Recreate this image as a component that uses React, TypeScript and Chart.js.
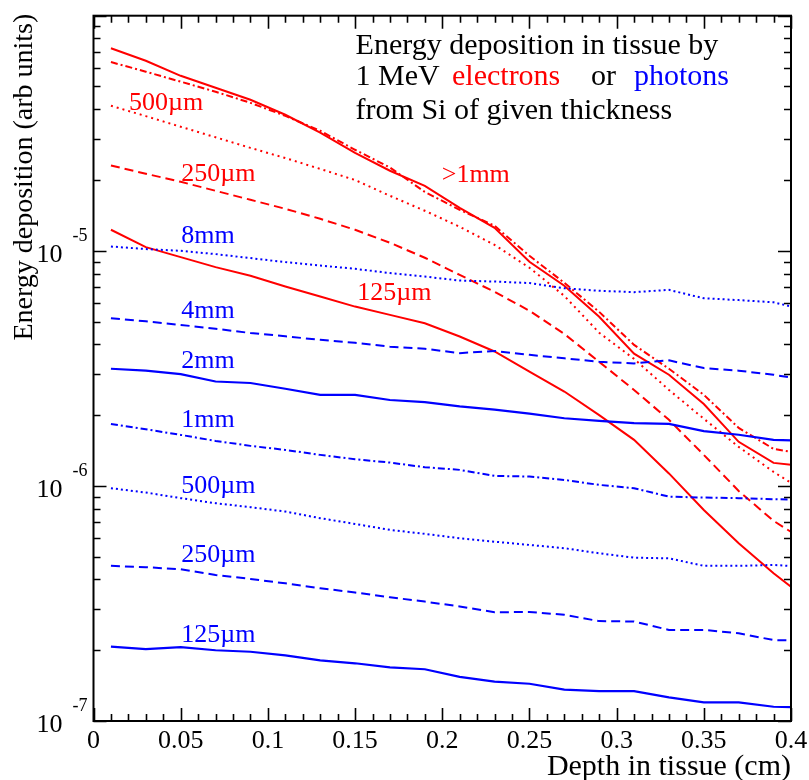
import React, { useEffect, useRef } from 'react';
import { Chart, registerables } from 'chart.js';

Chart.register(...registerables);

// ---------- data ----------
const DEPTH = [0.01, 0.03, 0.05, 0.07, 0.09, 0.11, 0.13, 0.15, 0.17, 0.19, 0.21, 0.23, 0.25, 0.27, 0.29, 0.31, 0.33, 0.35, 0.37, 0.39, 0.41];

// electrons (red)
const E_THICK_SOLID = [7.27e-5, 6.43e-5, 5.55e-5, 4.94e-5, 4.39e-5, 3.79e-5, 3.18e-5, 2.61e-5, 2.19e-5, 1.89e-5, 1.524e-5, 1.253e-5, 8.98e-6, 7.1e-6, 5.24e-6, 3.65e-6, 2.97e-6, 2.23e-6, 1.54e-6, 1.253e-6, 1.205e-6];
const E_THICK_DASHDOT = [6.35e-5, 5.78e-5, 5.24e-5, 4.75e-5, 4.26e-5, 3.75e-5, 3.24e-5, 2.69e-5, 2.26e-5, 1.78e-5, 1.494e-5, 1.278e-5, 9.52e-6, 7.31e-6, 5.5e-6, 3.98e-6, 3.15e-6, 2.44e-6, 1.765e-6, 1.437e-6, 1.355e-6];
const E_500UM = [4.14e-5, 3.74e-5, 3.37e-5, 3.04e-5, 2.74e-5, 2.48e-5, 2.23e-5, 2.0e-5, 1.714e-5, 1.48e-5, 1.265e-5, 1.06e-5, 8.47e-6, 6.43e-6, 4.48e-6, 3.47e-6, 2.56e-6, 1.93e-6, 1.466e-6, 1.147e-6, 9.25e-7];
const E_250UM = [2.307e-5, 2.127e-5, 1.966e-5, 1.8e-5, 1.648e-5, 1.509e-5, 1.368e-5, 1.229e-5, 1.082e-5, 9.34e-6, 7.9e-6, 6.69e-6, 5.56e-6, 4.43e-6, 3.37e-6, 2.56e-6, 1.91e-6, 1.355e-6, 9.52e-7, 7.1e-7, 5.72e-7];
const E_125UM = [1.229e-5, 1.037e-5, 9.4e-6, 8.52e-6, 7.83e-6, 7.05e-6, 6.39e-6, 5.79e-6, 5.34e-6, 4.92e-6, 4.32e-6, 3.73e-6, 3.06e-6, 2.52e-6, 2.0e-6, 1.57e-6, 1.13e-6, 7.9e-7, 5.7e-7, 4.25e-7, 3.27e-7];

// photons (blue)
const P_8MM = [1.043e-5, 1.017e-5, 1.0e-5, 9.68e-6, 9.31e-6, 8.95e-6, 8.66e-6, 8.38e-6, 8.04e-6, 7.77e-6, 7.47e-6, 7.4e-6, 7.29e-6, 6.93e-6, 6.76e-6, 6.67e-6, 6.82e-6, 6.28e-6, 6.17e-6, 6.04e-6, 5.56e-6];
const P_4MM = [5.17e-6, 5.01e-6, 4.84e-6, 4.66e-6, 4.47e-6, 4.33e-6, 4.18e-6, 4.06e-6, 3.91e-6, 3.83e-6, 3.67e-6, 3.75e-6, 3.61e-6, 3.49e-6, 3.37e-6, 3.32e-6, 3.42e-6, 3.17e-6, 3.09e-6, 2.97e-6, 2.81e-6];
const P_2MM = [3.15e-6, 3.09e-6, 2.99e-6, 2.78e-6, 2.74e-6, 2.59e-6, 2.44e-6, 2.44e-6, 2.32e-6, 2.27e-6, 2.18e-6, 2.11e-6, 2.03e-6, 1.94e-6, 1.89e-6, 1.85e-6, 1.835e-6, 1.71e-6, 1.65e-6, 1.57e-6, 1.555e-6];
const P_1MM = [1.835e-6, 1.742e-6, 1.648e-6, 1.554e-6, 1.48e-6, 1.423e-6, 1.355e-6, 1.299e-6, 1.257e-6, 1.201e-6, 1.17e-6, 1.103e-6, 1.096e-6, 1.06e-6, 1.01e-6, 9.78e-7, 9.0e-7, 8.92e-7, 8.87e-7, 8.78e-7, 8.7e-7];
const P_500UM = [9.78e-7, 9.37e-7, 8.87e-7, 8.44e-7, 8.12e-7, 7.78e-7, 7.29e-7, 6.89e-7, 6.5e-7, 6.25e-7, 5.99e-7, 5.79e-7, 5.61e-7, 5.43e-7, 5.17e-7, 4.95e-7, 4.92e-7, 4.57e-7, 4.57e-7, 4.61e-7, 4.52e-7];
const P_250UM = [4.57e-7, 4.51e-7, 4.42e-7, 4.18e-7, 4.02e-7, 3.85e-7, 3.67e-7, 3.52e-7, 3.36e-7, 3.22e-7, 3.07e-7, 2.9e-7, 2.91e-7, 2.83e-7, 2.66e-7, 2.65e-7, 2.44e-7, 2.44e-7, 2.36e-7, 2.21e-7, 2.19e-7];
const P_125UM = [2.07e-7, 2.02e-7, 2.06e-7, 2.0e-7, 1.97e-7, 1.9e-7, 1.81e-7, 1.76e-7, 1.69e-7, 1.66e-7, 1.54e-7, 1.47e-7, 1.44e-7, 1.36e-7, 1.34e-7, 1.34e-7, 1.26e-7, 1.2e-7, 1.2e-7, 1.15e-7, 1.14e-7];

// axes
const X_MIN = 0;
const X_MAX = 0.4;
const Y_MIN = 1e-7;
const Y_MAX = 1e-4;
const X_TICK_VALUES = [0, 0.05, 0.1, 0.15, 0.2, 0.25, 0.3, 0.35, 0.4];
const X_TICK_LABELS = ['0', '0.05', '0.1', '0.15', '0.2', '0.25', '0.3', '0.35', '0.4'];
const Y_DECADES = [-7, -6, -5];
const X_TITLE = 'Depth in tissue (cm)';
const Y_TITLE = 'Energy deposition (arb units)';

// curve labels: text, colour, depth (left edge), value (baseline)
const LABEL_TEXT = ['500µm', '250µm', '>1mm', '125µm', '8mm', '4mm', '2mm', '1mm', '500µm', '250µm', '125µm'];
const LABEL_COLOR = ['red', 'red', 'red', 'red', 'blue', 'blue', 'blue', 'blue', 'blue', 'blue', 'blue'];
const LABEL_X = [0.0204, 0.0503, 0.1997, 0.1513, 0.0503, 0.0503, 0.0503, 0.0503, 0.0503, 0.0503, 0.0503];
const LABEL_Y = [3.98e-5, 1.986e-5, 1.97e-5, 6.19e-6, 1.079e-5, 5.19e-6, 3.18e-6, 1.788e-6, 9.34e-7, 4.75e-7, 2.17e-7];

// header text (data coordinates: left depth, baseline value)
const HEAD_LINE1 = 'Energy deposition in tissue by';
const HEAD_LINE2_PARTS = ['1 MeV', 'electrons', 'or', 'photons'];
const HEAD_LINE2_COLORS = ['black', 'red', 'black', 'blue'];
const HEAD_LINE2_X = [0.1503, 0.2056, 0.2853, 0.3099];
const HEAD_LINE3 = 'from Si of given thickness';
const HEAD_X = 0.1503;
const HEAD_Y = [6.9e-5, 5.05e-5, 3.65e-5];

const RED = '#ff0000';
const BLUE = '#0000ff';
const SERIF = '"Liberation Serif", "Times New Roman", "DejaVu Serif", serif';

function pts(vals: number[]) {
  return vals.map((v, i) => ({ x: DEPTH[i], y: v }));
}
function colorOf(name: string) {
  return name === 'red' ? RED : name === 'blue' ? BLUE : '#000';
}

const SOLID: number[] = [];
const DASHED = [9, 5];
const DOTTED = [2, 3];
const DASHDOT = [7, 3, 2, 3];

const framePlugin = {
  id: 'rootFrame',
  afterDatasetsDraw(chart: any) {
    const { ctx, chartArea: ca, scales } = chart;
    const xs = scales.x;
    const ys = scales.y;
    ctx.save();
    ctx.strokeStyle = '#000';
    ctx.fillStyle = '#000';
    ctx.lineWidth = 2;
    ctx.setLineDash([]);
    ctx.strokeRect(ca.left, ca.top, ca.right - ca.left, ca.bottom - ca.top);

    // x ticks
    ctx.lineWidth = 1.6;
    for (let k = 0; k <= 40; k++) {
      const v = X_MIN + (k * (X_MAX - X_MIN)) / 40;
      const px = Math.round(xs.getPixelForValue(v)) + 0.5;
      const len = k % 5 === 0 ? 13 : 7;
      ctx.beginPath();
      ctx.moveTo(px, ca.bottom);
      ctx.lineTo(px, ca.bottom - len);
      ctx.moveTo(px, ca.top);
      ctx.lineTo(px, ca.top + len);
      ctx.stroke();
    }
    // y ticks (log)
    for (let d = -7; d <= -4; d++) {
      for (let m = 1; m <= 9; m++) {
        const v = m * Math.pow(10, d);
        if (v > Y_MAX * 1.0001) break;
        const py = Math.round(ys.getPixelForValue(v)) + 0.5;
        const len = m === 1 ? 13 : 7;
        ctx.beginPath();
        ctx.moveTo(ca.left, py);
        ctx.lineTo(ca.left + len, py);
        ctx.moveTo(ca.right, py);
        ctx.lineTo(ca.right - len, py);
        ctx.stroke();
      }
    }

    // x tick labels
    ctx.font = `26px ${SERIF}`;
    ctx.textAlign = 'center';
    ctx.textBaseline = 'alphabetic';
    X_TICK_VALUES.forEach((v, i) => {
      ctx.fillText(X_TICK_LABELS[i], xs.getPixelForValue(v), ca.bottom + 27);
    });
    // y tick labels: 10^d
    Y_DECADES.forEach((d) => {
      const py = ys.getPixelForValue(Math.pow(10, d));
      ctx.font = `26px ${SERIF}`;
      ctx.textAlign = 'right';
      ctx.fillText('10', ca.left - 31, py + 11);
      ctx.font = `18px ${SERIF}`;
      ctx.textAlign = 'left';
      ctx.fillText(String(d), ca.left - 21, py - 10);
    });

    // axis titles
    ctx.font = `30px ${SERIF}`;
    ctx.textAlign = 'right';
    ctx.fillText(X_TITLE, ca.right, ca.bottom + 54);
    ctx.save();
    ctx.translate(32, ca.top - 2);
    ctx.rotate(-Math.PI / 2);
    ctx.font = `28px ${SERIF}`;
    ctx.textAlign = 'right';
    ctx.fillText(Y_TITLE, 0, 0);
    ctx.restore();

    // curve labels
    ctx.font = `26px ${SERIF}`;
    ctx.textAlign = 'left';
    LABEL_TEXT.forEach((t, i) => {
      ctx.fillStyle = colorOf(LABEL_COLOR[i]);
      ctx.fillText(t, xs.getPixelForValue(LABEL_X[i]), ys.getPixelForValue(LABEL_Y[i]));
    });

    // header
    ctx.font = `30px ${SERIF}`;
    const hx = xs.getPixelForValue(HEAD_X);
    ctx.fillStyle = '#000';
    ctx.fillText(HEAD_LINE1, hx, ys.getPixelForValue(HEAD_Y[0]));
    const y2 = ys.getPixelForValue(HEAD_Y[1]);
    HEAD_LINE2_PARTS.forEach((t, i) => {
      ctx.fillStyle = colorOf(HEAD_LINE2_COLORS[i]);
      ctx.fillText(t, xs.getPixelForValue(HEAD_LINE2_X[i]), y2);
    });
    ctx.fillStyle = '#000';
    ctx.fillText(HEAD_LINE3, hx, ys.getPixelForValue(HEAD_Y[2]));
    ctx.restore();
  },
};

export default function App() {
  const ref = useRef<HTMLCanvasElement>(null);
  useEffect(() => {
    if (!ref.current) return;
    const mk = (label: string, data: number[], color: string, dash: number[], width = 2) => ({
      label,
      data: pts(data),
      borderColor: color,
      backgroundColor: color,
      borderWidth: width,
      borderDash: dash,
      pointRadius: 0,
      tension: 0,
      fill: false,
    });
    const chart = new Chart(ref.current, {
      type: 'line',
      data: {
        datasets: [
          mk('photons 8mm', P_8MM, BLUE, DOTTED),
          mk('photons 4mm', P_4MM, BLUE, DASHED),
          mk('photons 2mm', P_2MM, BLUE, SOLID, 2.2),
          mk('photons 1mm', P_1MM, BLUE, DASHDOT),
          mk('photons 500um', P_500UM, BLUE, DOTTED),
          mk('photons 250um', P_250UM, BLUE, DASHED),
          mk('photons 125um', P_125UM, BLUE, SOLID, 2.2),
          mk('electrons >1mm', E_THICK_SOLID, RED, SOLID),
          mk('electrons 1mm', E_THICK_DASHDOT, RED, DASHDOT),
          mk('electrons 500um', E_500UM, RED, [2, 4]),
          mk('electrons 250um', E_250UM, RED, DASHED),
          mk('electrons 125um', E_125UM, RED, SOLID),
        ] as any,
      },
      options: {
        animation: false,
        responsive: false,
        devicePixelRatio: 1,
        layout: { padding: { left: 93.5, right: 18, top: 15.7, bottom: 59 } },
        plugins: { legend: { display: false }, tooltip: { enabled: false } },
        scales: {
          x: { type: 'linear', min: X_MIN, max: X_MAX, display: false },
          y: { type: 'logarithmic', min: Y_MIN, max: Y_MAX, display: false },
        },
      } as any,
      plugins: [framePlugin],
    });
    return () => chart.destroy();
  }, []);
  return (
    <div style={{ position: 'absolute', left: 0, top: 0, width: 809, height: 780, background: '#fff' }}>
      <canvas ref={ref} width={809} height={780} style={{ display: 'block', width: 809, height: 780 }} />
    </div>
  );
}
